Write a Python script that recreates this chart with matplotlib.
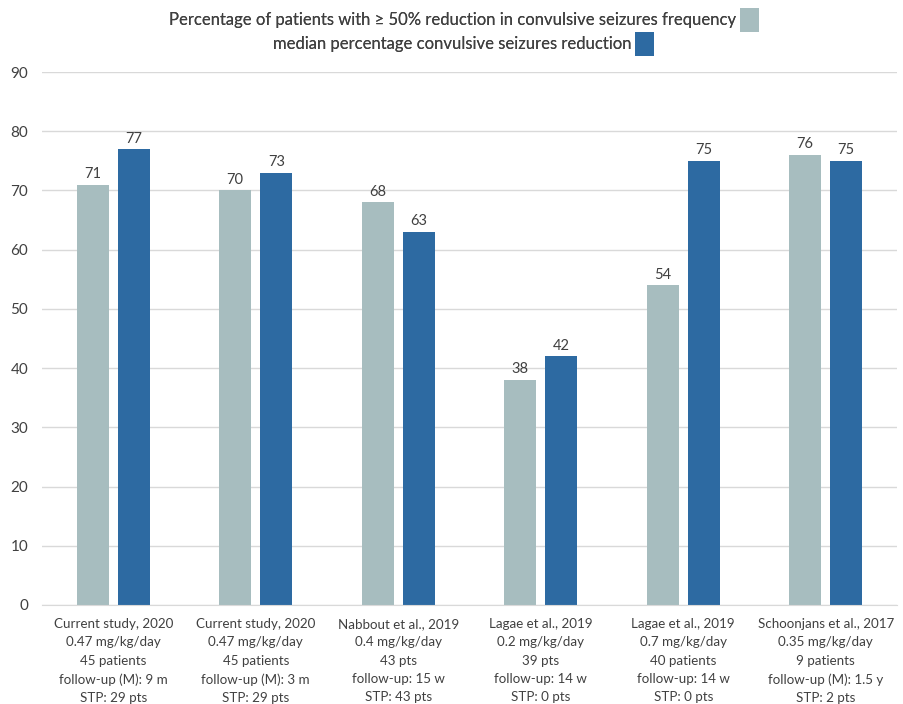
import matplotlib
matplotlib.use("Agg")
import matplotlib.pyplot as plt
import numpy as np
from matplotlib.patches import Patch

categories = [
    "Current study, 2020\n0.47 mg/kg/day\n45 patients\nfollow-up (M): 9 m\nSTP: 29 pts",
    "Current study, 2020\n0.47 mg/kg/day\n45 patients\nfollow-up (M): 3 m\nSTP: 29 pts",
    "Nabbout et al., 2019\n0.4 mg/kg/day\n43 pts\nfollow-up: 15 w\nSTP: 43 pts",
    "Lagae et al., 2019\n0.2 mg/kg/day\n39 pts\nfollow-up: 14 w\nSTP: 0 pts",
    "Lagae et al., 2019\n0.7 mg/kg/day\n40 patients\nfollow-up: 14 w\nSTP: 0 pts",
    "Schoonjans et al., 2017\n0.35 mg/kg/day\n9 patients\nfollow-up (M): 1.5 y\nSTP: 2 pts",
]
responders = [71, 70, 68, 38, 54, 76]
median_reduction = [77, 73, 63, 42, 75, 75]
series_names = [
    "Percentage of patients with \u2265 50% reduction in convulsive seizures frequency",
    "median percentage convulsive seizures reduction",
]
yticks = [0, 10, 20, 30, 40, 50, 60, 70, 80, 90]

c_light = "#A7BDBF"
c_dark = "#2D6AA2"
txt = "#404040"

plt.rcParams['font.family'] = ['Lato', 'DejaVu Sans']

fig = plt.figure(figsize=(9.04, 7.04), dpi=100)
ax = fig.add_axes([42/904, 1-605/704, (897-42)/904, (605-72)/704])

x = np.arange(len(categories))
w = 0.225
off = 0.144
ax.bar(x - off, responders, w, color=c_light, zorder=2)
ax.bar(x + off, median_reduction, w, color=c_dark, zorder=2)
for xi, v in zip(x - off, responders):
    ax.annotate(str(v), (xi, v), xytext=(0, 2.5), textcoords="offset points",
                ha="center", va="bottom", fontsize=10.5, color=txt)
for xi, v in zip(x + off, median_reduction):
    ax.annotate(str(v), (xi, v), xytext=(0, 2.5), textcoords="offset points",
                ha="center", va="bottom", fontsize=10.5, color=txt)

ax.set_xlim(-0.5, len(categories) - 0.5)
ax.set_ylim(0, 90)
ax.set_yticks(yticks)
ax.set_yticklabels([str(t) for t in yticks])
ax.set_xticks(x)
ax.set_xticklabels(categories, fontsize=9.6, color=txt, linespacing=1.62)
ax.tick_params(axis="y", length=0, labelsize=11, labelcolor=txt, pad=10)
ax.tick_params(axis="x", length=0, pad=9.5)
ax.grid(axis="y", color="#D9D9D9", linewidth=1, zorder=0)
for s in ["top", "right", "left"]:
    ax.spines[s].set_visible(False)
ax.spines["bottom"].set_color("#D9D9D9")

for i, (name, col, yy) in enumerate(zip(series_names, [c_light, c_dark], [20, 44])):
    leg = fig.legend(handles=[Patch(facecolor=col, edgecolor="none")], labels=[name],
                     loc="center", bbox_to_anchor=(464/904, 1 - yy/704),
                     frameon=False, markerfirst=False, handlelength=1.15, handleheight=1.9,
                     handletextpad=0.2, borderpad=0, fontsize=12, labelcolor=txt)
    fig.add_artist(leg)

fig.savefig("out.png", dpi=100)
